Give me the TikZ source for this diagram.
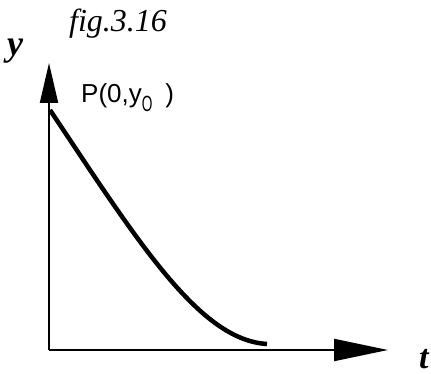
\documentclass[tikz,border=0pt]{standalone}
\usepackage{fontspec}
\setmainfont{Liberation Serif}
\newfontfamily\cadfont{Liberation Sans}
\usepackage{tikz}
\usetikzlibrary{arrows.meta}
\tikzset{axis/.style={line width=2pt,draw=black},decay/.style={line width=4.5pt,draw=black},lbl/.style={inner sep=0pt,anchor=base west},yarr/.style={-{Triangle[length=40pt,width=18pt]}},tarr/.style={-{Triangle[length=54pt,width=22pt]}}}

\begin{document}
\begin{tikzpicture}[x=1pt,y=-1pt]
\useasboundingbox (0,0) rectangle (431,374);
\coordinate (origin) at (49,350);
\coordinate (ytip) at (49,63);
\coordinate (ttip) at (388,350);
\coordinate (start) at (50,110);
\coordinate (tail) at (267,344);
\node[lbl,font=\fontsize{32}{32}\selectfont\itshape] (title) at (69,32) {fig.3.16};
\node[lbl,font=\fontsize{36}{36}\selectfont\bfseries\itshape] (ylab) at (7,56) {y};
\node[lbl,font=\fontsize{34}{34}\selectfont\bfseries\itshape] (tlab) at (419,368) {t};
\node[lbl,font=\fontsize{26}{26}\selectfont\cadfont] (point) at (81,103) {P(0,y\raisebox{-9pt}{\fontsize{22}{22}\selectfont\scalebox{0.62}[1]{O}}\hspace{13pt})};
\draw[axis,yarr] (origin)--(ytip);
\draw[axis,tarr] (origin)--(ttip);
\draw[decay] (start) .. controls (140,245) and (200,340) .. (tail);
\end{tikzpicture}
\end{document}
